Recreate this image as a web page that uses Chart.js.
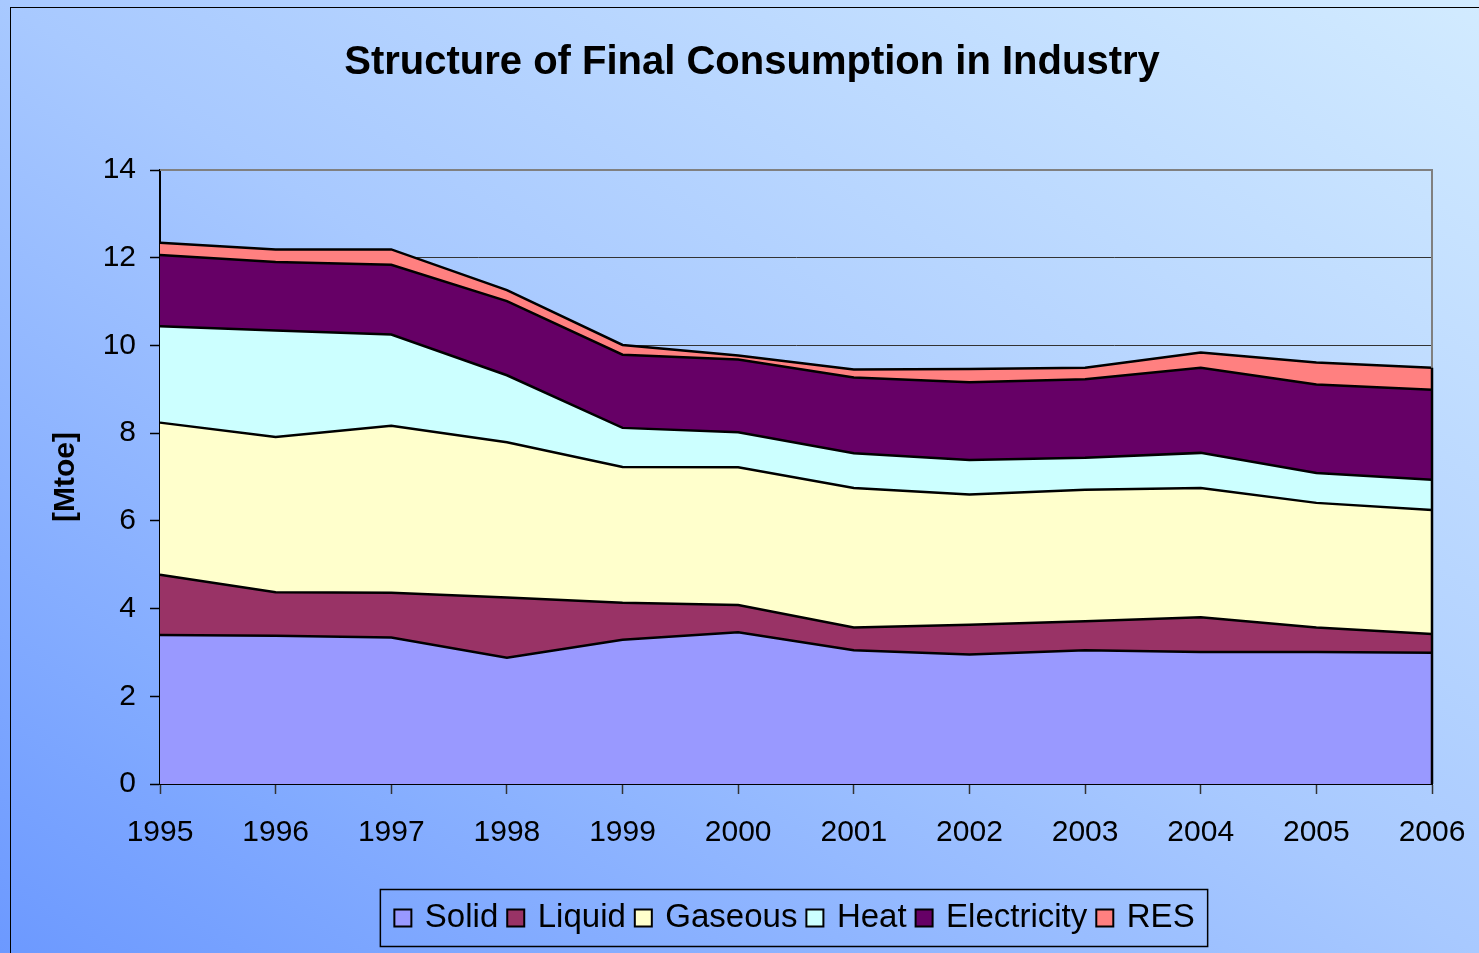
<!DOCTYPE html>
<html>
<head>
<meta charset="utf-8">
<script src="https://cdn.jsdelivr.net/npm/chart.js@4/dist/chart.umd.min.js"></script>
<style>
  html, body { margin: 0; padding: 0; }
  body {
    width: 1479px; height: 953px; overflow: hidden; position: relative;
    background: linear-gradient(to top right, #6c99ff 0%, #a8c9ff 50%, #d2ebff 100%);
  }
  #frame {
    position: absolute; left: 10px; top: 7px; width: 1600px; height: 1100px;
    border: 1.5px solid #000; box-sizing: border-box;
  }
  #wrap { position: absolute; left: 0; top: 0; width: 1479px; height: 953px; }
</style>
</head>
<body>
<div id="frame"></div>
<div id="wrap"><canvas id="chart"></canvas></div>
<script>
// Dane (Mtoe)
const years = ['1995', '1996', '1997', '1998', '1999', '2000', '2001', '2002', '2003', '2004', '2005', '2006'];
const solid       = [3.40, 3.38, 3.34, 2.88, 3.29, 3.46, 3.05, 2.95, 3.05, 3.01, 3.01, 2.99];
const liquid      = [1.37, 0.99, 1.02, 1.37, 0.84, 0.62, 0.52, 0.68, 0.66, 0.79, 0.56, 0.43];
const gaseous     = [3.47, 3.54, 3.81, 3.54, 3.10, 3.14, 3.18, 2.97, 3.00, 2.95, 2.84, 2.83];
const heat        = [2.20, 2.43, 2.08, 1.53, 0.89, 0.80, 0.79, 0.79, 0.73, 0.80, 0.68, 0.69];
const electricity = [1.62, 1.56, 1.59, 1.69, 1.67, 1.66, 1.73, 1.77, 1.79, 1.94, 2.02, 2.05];
const res         = [0.28, 0.29, 0.35, 0.25, 0.22, 0.09, 0.18, 0.30, 0.26, 0.35, 0.50, 0.50];
const yTicks = [0, 2, 4, 6, 8, 10, 12, 14];
const chartTitle = 'Structure of Final Consumption in Industry';

const FONT = "'Liberation Sans', Arial, sans-serif";

const series = [
  { label: 'Solid', data: solid, color: '#9999ff' },
  { label: 'Liquid', data: liquid, color: '#993366' },
  { label: 'Gaseous', data: gaseous, color: '#ffffcc' },
  { label: 'Heat', data: heat, color: '#ccffff' },
  { label: 'Electricity', data: electricity, color: '#660066' },
  { label: 'RES', data: res, color: '#ff8080' }
];

// ramki: obszar wykresu, legenda, tytuł
const framePlugin = {
  id: 'frames',
  afterDatasetsDraw(chart) {
    const { ctx, chartArea: a, scales } = chart;
    ctx.save();
    ctx.strokeStyle = '#808080';
    ctx.lineWidth = 2;
    ctx.beginPath();
    ctx.moveTo(a.left, a.top);
    ctx.lineTo(a.right, a.top);
    ctx.lineTo(a.right, a.bottom);
    ctx.stroke();
    // prawa krawędź warstw
    const last = years.length - 1;
    const total = series.reduce((s, d) => s + d.data[last], 0);
    ctx.strokeStyle = '#000';
    ctx.lineWidth = 2.5;
    ctx.beginPath();
    ctx.moveTo(a.right, scales.y.getPixelForValue(total));
    ctx.lineTo(a.right, a.bottom);
    ctx.stroke();
    ctx.restore();
  },
  afterDraw(chart) {
    const ctx = chart.ctx;
    ctx.save();
    ctx.fillStyle = '#000';
    ctx.font = 'bold 40px ' + FONT;
    ctx.textAlign = 'center';
    ctx.textBaseline = 'middle';
    ctx.fillText(chartTitle, 752, 63);

    const boxes = chart.legend && chart.legend.legendHitBoxes;
    if (boxes && boxes.length) {
      const left = Math.min(...boxes.map(b => b.left)) - 17;
      const right = Math.max(...boxes.map(b => b.left + b.width)) + 13;
      const top = Math.min(...boxes.map(b => b.top)) - 12;
      const bottom = Math.max(...boxes.map(b => b.top + b.height)) + 12;
      ctx.strokeStyle = '#000';
      ctx.lineWidth = 1.5;
      ctx.strokeRect(left, top, right - left, bottom - top);
    }
    ctx.restore();
  }
};

new Chart(document.getElementById('chart'), {
  type: 'line',
  data: {
    labels: years,
    datasets: series.map((s, i) => ({
      label: s.label,
      data: s.data,
      backgroundColor: s.color,
      borderColor: '#000',
      borderWidth: 2.5,
      pointRadius: 0,
      pointStyle: 'rect',
      tension: 0,
      fill: i === 0 ? 'origin' : '-1'
    }))
  },
  plugins: [framePlugin],
  options: {
    responsive: true,
    maintainAspectRatio: false,
    animation: false,
    layout: { padding: { left: 0, right: 47, top: 170, bottom: 8.5 } },
    scales: {
      x: {
        offset: false,
        afterFit: s => { s.height = 105.5; s.paddingLeft = 0; s.paddingRight = 0; },
        grid: { drawOnChartArea: false, drawTicks: true, tickLength: 10, tickColor: '#333', tickWidth: 1.5 },
        border: { color: '#000', width: 2 },
        ticks: { color: '#000', font: { family: FONT, size: 30 }, padding: 21, maxRotation: 0, autoSkip: false }
      },
      y: {
        stacked: true,
        min: 0,
        max: 14,
        afterFit: s => { s.width = 160; s.paddingTop = 0; s.paddingBottom = 0; },
        afterBuildTicks: s => { s.ticks = yTicks.map(v => ({ value: v })); },
        grid: { color: '#333', lineWidth: 1, tickLength: 10, tickColor: '#000', tickWidth: 1.5 },
        border: { color: '#000', width: 2 },
        ticks: { color: '#000', font: { family: FONT, size: 30 }, padding: 14 },
        title: {
          display: true,
          text: '[Mtoe]',
          color: '#000',
          font: { family: FONT, size: 30, weight: 'bold' },
          padding: { top: 48, bottom: 0 }
        }
      }
    },
    plugins: {
      filler: { drawTime: 'beforeDatasetsDraw' },
      title: { display: false },
      legend: {
        position: 'bottom',
        fullSize: false,
        labels: {
          color: '#000',
          font: { family: FONT, size: 33 },
          usePointStyle: true,
          pointStyle: 'rect',
          boxWidth: 11,
          boxHeight: 17,
          padding: 12,
          generateLabels: chart => chart.data.datasets.map((d, i) => ({
            text: d.label,
            fillStyle: d.backgroundColor,
            strokeStyle: '#000',
            lineWidth: 2,
            pointStyle: 'rect',
            hidden: false,
            datasetIndex: i
          }))
        }
      },
      tooltip: { enabled: false }
    }
  }
});
</script>
</body>
</html>
